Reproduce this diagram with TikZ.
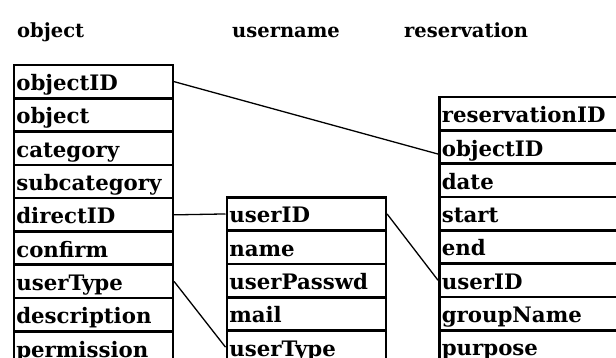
\documentclass[tikz,border=0pt]{standalone}
\usepackage{fontspec}
\setmainfont{DejaVu Serif}
\begin{document}
\begin{tikzpicture}[x=1pt,y=-1pt,
  cell/.style={draw, line width=2.6pt, minimum height=33.3pt, inner xsep=2.5pt, inner ysep=0pt,
    anchor=north west, text height=18pt, text depth=0pt, align=left,
    font=\fontsize{21.3}{24}\selectfont\bfseries},
  ocell/.style={cell, text width=154pt},
  rcell/.style={cell, text width=185pt},
  title/.style={anchor=base west, inner sep=0pt, font=\fontsize{19.5}{22}\selectfont\bfseries},
  conn/.style={draw, line width=1.3pt}]
\useasboundingbox (0,0) rectangle (616,358);
\fill[white] (0,0) rectangle (616,358);
% titles
\node[title] (tobj) at (17,38) {object};
\node[title] (tusr) at (232,38) {username};
\node[title] (tres) at (404,38) {reservation};
% object table
\foreach \t [count=\i] in {objectID,object,category,subcategory,directID,confirm,userType,description,permission}
  \node[ocell] (o\i) at ({12.5},{63.7+(\i-1)*33.3}) {\t};
% username table
\foreach \t [count=\i] in {userID,name,userPasswd,mail,userType}
  \node[ocell] (u\i) at ({225.5},{196+(\i-1)*33.3}) {\t};
% reservation table
\foreach \t [count=\i] in {reservationID,objectID,date,start,end,userID,groupName,purpose}
  \node[rcell] (r\i) at ({438},{95.8+(\i-1)*33.3}) {\t};
% connectors
\draw[conn] (o1.east) -- ([yshift=-7pt]r2.west);
\draw[conn] (o5.east) -- (u1.west);
\draw[conn] (o7.east) -- (u5.west);
\draw[conn] (u1.east) -- (r6.west);
\end{tikzpicture}
\end{document}
